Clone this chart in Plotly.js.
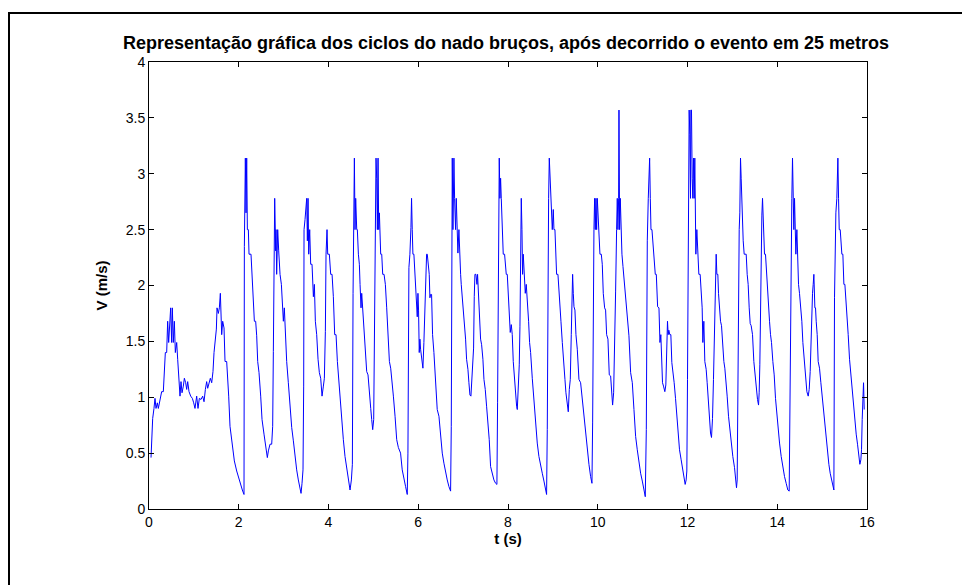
<!DOCTYPE html>
<html>
<head>
<meta charset="utf-8">
<script src="https://cdn.plot.ly/plotly-3.0.1.min.js"></script>
<style>
html,body{margin:0;padding:0;background:#fff;overflow:hidden;width:962px;height:585px;}
#frame{position:absolute;left:8px;top:12px;width:1000px;height:700px;border-top:2px solid #000;border-left:2px solid #000;pointer-events:none;z-index:5;}
#chart{position:absolute;left:0;top:0;width:962px;height:585px;}
</style>
</head>
<body>
<div id="chart"></div>
<div id="frame"></div>
<script>
const chartTitle = "Representação gráfica dos ciclos do nado bruços, após decorrido o evento em 25 metros";
const xLabel = "t (s)";
const yLabel = "V (m/s)";
const xTicks = [0,2,4,6,8,10,12,14,16];
const yTicks = [0,0.5,1,1.5,2,2.5,3,3.5,4];
const yTickText = ["0","0.5","1","1.5","2","2.5","3","3.5","4"];

// time (s) and velocity (m/s)
const t1 = [0.045,0.067,0.082,0.111,0.134,0.156,0.186,0.208,0.245,0.282,0.319,0.342,0.364,0.394,0.416,0.438,0.461,0.483,0.505,0.520,0.542,0.565,0.587,0.617,0.639,0.669,0.691,0.713,0.736,0.765,0.788,0.817,0.840,0.862,0.892,0.929,0.966,0.996,1.025,1.062,1.092,1.122,1.159,1.196,1.226,1.256,1.285,1.308,1.337,1.367,1.397,1.426,1.449,1.478,1.501,1.516,1.545,1.568,1.590,1.620,1.642,1.672,1.694,1.731,1.753,1.776,1.805,1.835,1.865,1.902,1.954,2.028,2.080,2.117];
const v1 = [0.46,0.64,0.81,0.90,0.99,0.90,0.95,0.90,0.99,1.05,1.05,1.23,1.40,1.40,1.68,1.49,1.68,1.80,1.49,1.80,1.49,1.68,1.40,1.49,1.34,1.13,1.01,1.14,1.04,1.10,1.17,1.13,1.07,1.14,1.05,1.01,0.99,0.95,0.90,1.01,0.90,0.99,0.98,1.01,0.96,1.07,1.14,1.08,1.13,1.17,1.13,1.23,1.40,1.49,1.61,1.80,1.75,1.80,1.93,1.56,1.68,1.62,1.32,1.32,1.20,1.01,0.74,0.64,0.53,0.43,0.34,0.23,0.17,0.13];

const t2 = [2.125,2.147,2.162,2.177,2.192,2.214,2.229,2.273,2.303,2.325,2.348,2.377,2.400,2.422,2.452,2.489,2.519,2.563,2.600,2.637,2.660,2.697,2.734,2.756,2.771,2.786,2.801,2.823,2.831,2.845,2.868,2.890,2.920,2.950,2.964,2.994,3.016,3.039,3.068,3.105,3.143,3.180,3.217,3.254,3.291,3.328,3.358,3.388,3.410,3.432,3.447,3.455,3.477,3.492,3.514,3.529,3.544,3.559,3.581,3.603,3.633,3.663,3.685,3.707,3.737,3.767,3.796,3.826,3.856,3.886,3.908,3.930,3.945,3.967,3.982,4.019,4.049,4.079,4.108,4.138,4.168,4.198,4.227,4.257,4.294,4.331,4.368,4.406,4.443,4.480,4.510,4.532];
const v2 = [2.35,3.14,2.65,3.14,2.50,2.50,2.28,2.28,2.01,1.90,1.68,1.68,1.55,1.32,1.22,1.01,0.80,0.67,0.55,0.46,0.52,0.58,0.58,0.74,1.41,2.31,2.78,2.31,2.50,2.10,2.50,2.31,2.10,2.01,1.90,1.68,1.80,1.55,1.32,1.13,0.92,0.73,0.61,0.47,0.35,0.26,0.19,0.14,0.23,0.35,1.10,2.50,2.59,2.68,2.78,2.40,2.78,2.28,2.50,2.19,2.19,1.90,2.01,1.68,1.56,1.34,1.22,1.17,1.01,1.10,1.17,1.59,2.28,2.50,2.28,2.28,2.10,2.10,1.90,1.56,1.56,1.32,1.17,0.98,0.74,0.62,0.47,0.35,0.26,0.17,0.26,0.40];

const t3 = [4.547,4.562,4.577,4.591,4.606,4.629,4.643,4.666,4.688,4.703,4.725,4.740,4.762,4.792,4.822,4.851,4.881,4.911,4.941,4.963,4.985,5.007,5.030,5.045,5.059,5.074,5.089,5.104,5.119,5.134,5.163,5.186,5.208,5.238,5.267,5.297,5.334,5.357,5.386,5.416,5.446,5.483,5.520,5.557,5.606,5.643,5.681,5.718,5.755,5.770,5.792,5.814,5.837,5.851,5.866,5.881,5.903,5.926,5.948,5.963,5.978,5.993,6.007,6.022,6.037,6.052,6.067,6.082,6.104,6.126,6.141,6.156,6.171,6.186,6.201,6.223,6.245,6.260,6.275,6.297,6.319,6.349,6.379,6.423,6.461,6.498,6.535,6.572,6.609,6.646,6.684,6.721];
const v3 = [1.93,2.83,3.14,2.50,2.78,2.50,2.50,2.28,2.19,2.01,1.80,1.93,1.80,1.56,1.38,1.23,1.20,1.01,0.90,0.80,0.71,0.80,1.72,2.50,3.14,2.96,2.50,3.14,2.50,2.65,2.28,2.28,2.10,2.10,2.01,1.80,1.56,1.32,1.26,1.16,1.01,0.83,0.62,0.55,0.50,0.35,0.26,0.20,0.13,0.50,2.16,2.28,2.52,2.78,2.50,2.28,2.28,2.10,2.01,1.93,1.72,1.93,1.78,1.40,1.52,1.43,1.37,1.32,1.26,1.49,1.74,2.01,2.14,2.28,2.28,2.20,2.10,1.89,1.92,1.92,1.56,1.40,1.16,0.89,0.83,0.65,0.50,0.41,0.32,0.26,0.20,0.16];

const t4 = [6.736,6.750,6.758,6.773,6.788,6.795,6.810,6.832,6.847,6.869,6.884,6.906,6.929,6.944,6.958,6.981,7.003,7.025,7.055,7.077,7.107,7.129,7.152,7.174,7.196,7.218,7.233,7.248,7.263,7.285,7.308,7.322,7.345,7.367,7.389,7.412,7.441,7.464,7.493,7.523,7.553,7.582,7.612,7.649,7.686,7.724,7.753,7.768,7.791,7.805,7.820,7.835,7.850,7.872,7.894,7.924,7.939,7.961,7.984,8.006,8.028,8.050,8.073,8.095,8.117,8.139,8.169,8.192,8.207,8.229,8.251,8.266,8.281,8.296,8.311,8.325,8.340,8.363,8.385,8.407,8.429,8.459,8.481,8.504,8.541,8.578,8.615,8.652,8.689,8.727,8.764,8.801,8.838,8.860];
const v4 = [0.74,2.50,3.14,2.50,2.96,3.14,2.78,2.50,2.78,2.50,2.29,2.50,2.10,2.10,2.01,1.90,1.72,1.68,1.52,1.34,1.25,1.13,1.02,1.01,1.16,1.34,1.44,1.90,2.10,2.10,2.01,2.10,1.87,1.72,1.52,1.47,1.34,1.16,1.07,0.92,0.80,0.62,0.38,0.31,0.26,0.23,0.22,0.95,2.28,3.14,2.78,2.96,2.78,2.50,2.28,2.28,2.19,2.10,2.10,1.93,1.68,1.58,1.65,1.56,1.32,1.17,1.04,0.92,0.89,1.04,1.29,1.63,2.13,2.78,2.50,2.10,2.28,2.10,1.93,2.01,1.89,1.68,1.49,1.40,1.17,0.95,0.77,0.59,0.47,0.38,0.32,0.25,0.17,0.13];

const t5 = [8.875,8.890,8.905,8.920,8.935,8.949,8.964,8.987,9.009,9.024,9.046,9.061,9.083,9.113,9.135,9.158,9.180,9.210,9.247,9.269,9.291,9.321,9.343,9.366,9.388,9.410,9.425,9.440,9.455,9.470,9.492,9.514,9.544,9.581,9.618,9.655,9.692,9.730,9.767,9.804,9.841,9.871,9.886,9.900,9.915,9.930,9.945,9.960,9.975,9.990,10.004,10.027,10.049,10.079,10.101,10.123,10.153,10.175,10.198,10.227,10.257,10.287,10.317,10.331,10.354,10.376,10.398,10.420,10.435,10.450,10.465,10.473,10.487,10.502,10.517,10.539,10.562,10.584,10.606,10.636,10.658,10.695,10.733,10.770,10.807,10.844,10.881,10.918,10.955,10.993,11.030,11.059];
const v5 = [0.71,2.50,2.78,3.14,2.96,2.78,2.78,2.50,2.68,2.50,2.50,2.28,2.10,2.10,1.93,1.81,1.68,1.49,1.32,1.16,1.04,0.91,0.87,1.07,1.16,1.56,1.84,2.10,1.93,1.81,1.78,1.56,1.43,1.16,1.13,0.98,0.80,0.65,0.53,0.40,0.29,0.23,0.77,2.11,2.50,2.78,2.50,2.78,2.50,2.78,2.65,2.50,2.28,2.28,2.19,1.93,1.80,1.78,1.56,1.52,1.20,1.19,0.99,0.93,1.04,1.69,1.95,2.50,2.78,2.50,2.78,3.57,2.50,2.78,2.50,2.28,2.17,2.07,1.90,1.80,1.68,1.55,1.22,1.13,0.89,0.65,0.53,0.41,0.32,0.25,0.17,0.11];

const t6 = [11.082,11.104,11.126,11.141,11.156,11.171,11.186,11.208,11.230,11.253,11.282,11.305,11.334,11.364,11.386,11.406,11.421,11.443,11.465,11.495,11.517,11.539,11.554,11.569,11.584,11.606,11.629,11.651,11.673,11.703,11.733,11.762,11.792,11.822,11.859,11.896,11.926,11.948,11.970,11.985,12.000,12.015,12.030,12.037,12.052,12.067,12.074,12.089,12.104,12.119,12.134,12.149,12.163,12.171,12.186,12.208,12.230,12.253,12.282,12.305,12.327,12.342,12.364,12.386,12.416,12.438,12.461,12.490,12.513,12.535,12.557,12.579,12.594,12.609,12.624,12.639,12.654,12.676,12.691,12.713,12.736,12.758,12.788,12.810,12.832,12.862,12.884,12.914,12.944,12.973,13.010,13.048,13.070,13.092];
const v6 = [0.71,2.40,2.78,2.96,3.14,2.78,2.50,2.50,2.40,2.28,2.10,2.10,1.81,1.80,1.49,1.56,1.25,1.13,1.10,1.05,1.11,1.49,1.68,1.56,1.60,1.56,1.56,1.31,1.20,1.13,0.99,0.83,0.68,0.53,0.44,0.35,0.29,0.22,0.26,0.34,1.16,1.96,3.12,3.57,3.35,2.78,3.57,3.57,2.96,2.78,3.14,2.78,3.14,2.50,2.28,2.50,2.28,2.10,2.10,1.93,1.80,1.49,1.68,1.32,1.25,1.13,0.98,0.84,0.68,0.64,0.81,1.16,1.44,1.96,2.10,2.28,2.10,2.10,1.93,1.80,1.68,1.64,1.40,1.32,1.26,1.13,1.01,0.83,0.71,0.59,0.47,0.37,0.26,0.19];

const t7 = [13.107,13.122,13.137,13.152,13.166,13.181,13.196,13.211,13.226,13.241,13.263,13.308,13.330,13.352,13.375,13.397,13.419,13.449,13.478,13.508,13.538,13.560,13.583,13.597,13.612,13.627,13.642,13.657,13.672,13.686,13.701,13.716,13.738,13.761,13.783,13.805,13.828,13.850,13.872,13.902,13.932,13.961,13.991,14.021,14.051,14.088,14.125,14.162,14.199,14.236,14.266,14.281,14.296,14.311,14.325,14.340,14.355,14.370,14.385,14.400,14.415,14.437,14.459,14.474,14.496,14.526,14.548,14.571,14.600,14.630,14.660,14.690,14.712,14.734,14.756,14.771,14.786,14.801,14.816,14.838,14.853,14.868,14.890,14.912,14.942,14.972,15.001,15.031,15.061,15.091,15.120,15.150,15.180,15.209,15.239,15.262];
const v7 = [0.26,1.05,2.38,2.50,2.65,3.14,2.96,2.78,2.50,2.40,2.28,2.28,2.10,2.01,1.80,1.66,1.64,1.56,1.32,1.20,1.04,0.98,0.93,1.04,1.29,1.98,2.38,2.63,2.78,2.56,2.50,2.28,2.28,2.10,2.01,1.80,1.68,1.56,1.49,1.32,1.20,0.99,0.83,0.71,0.59,0.47,0.37,0.29,0.23,0.17,0.16,0.84,2.19,2.50,2.78,3.14,2.78,2.50,2.78,2.38,2.28,2.50,2.10,2.01,1.93,1.80,1.68,1.49,1.32,1.14,1.05,1.01,1.07,1.23,1.59,1.86,1.93,2.01,2.10,1.80,1.80,1.68,1.56,1.32,1.26,1.13,1.01,0.83,0.71,0.61,0.47,0.40,0.32,0.26,0.20,0.17];

const t8 = [15.276,15.291,15.306,15.328,15.351,15.366,15.381,15.403,15.425,15.440,15.462,15.485,15.507,15.529,15.551,15.581,15.611,15.641,15.670,15.700,15.730,15.759,15.789,15.819,15.841,15.863,15.878,15.893,15.908,15.923,15.938];
const v8 = [1.89,2.38,2.65,2.78,3.14,2.78,2.50,2.50,2.40,2.28,2.28,2.01,2.01,1.89,1.68,1.56,1.34,1.20,1.04,0.89,0.77,0.67,0.58,0.50,0.40,0.44,0.53,0.80,1.13,1.13,0.89];

const tAll = [].concat(t1,t2,t3,t4,t5,t6,t7,t8);
const vAll = [].concat(v1,v2,v3,v4,v5,v6,v7,v8);

const fam = "Arial, 'Liberation Sans', sans-serif";
const tickFont = {family: fam, size: 14, color: "#000"};

const trace = {
  x: tAll, y: vAll, type: "scatter", mode: "lines",
  line: {color: "#0000ff", width: 1},
  hoverinfo: "skip"
};

const axisCommon = {
  showgrid: false, zeroline: false, showline: true, linecolor: "#000", linewidth: 1,
  ticks: "inside", ticklen: 5, tickwidth: 1, tickcolor: "#000", mirror: "ticks",
  tickfont: tickFont
};

const layout = {
  width: 962, height: 585,
  paper_bgcolor: "#fff", plot_bgcolor: "#fff",
  margin: {l: 149, r: 95, t: 62, b: 76},
  showlegend: false,
  title: {
    text: chartTitle,
    font: {family: fam, size: 18, color: "#000", weight: "bold"},
    x: 0.526, xanchor: "center", y: 0.9275, yanchor: "middle"
  },
  xaxis: Object.assign({}, axisCommon, {
    range: [0, 16], tickmode: "array", tickvals: xTicks, ticktext: xTicks.map(String),
    title: {text: "<b>" + xLabel + "</b>", font: {family: fam, size: 15, color: "#000"}, standoff: 4}
  }),
  yaxis: Object.assign({}, axisCommon, {
    range: [0, 4], tickmode: "array", tickvals: yTicks, ticktext: yTickText,
    title: {text: "<b>" + yLabel + "</b>", font: {family: fam, size: 15, color: "#000"}, standoff: 14}
  })
};

Plotly.newPlot("chart", [trace], layout, {displayModeBar: false, staticPlot: true});
</script>
</body>
</html>
